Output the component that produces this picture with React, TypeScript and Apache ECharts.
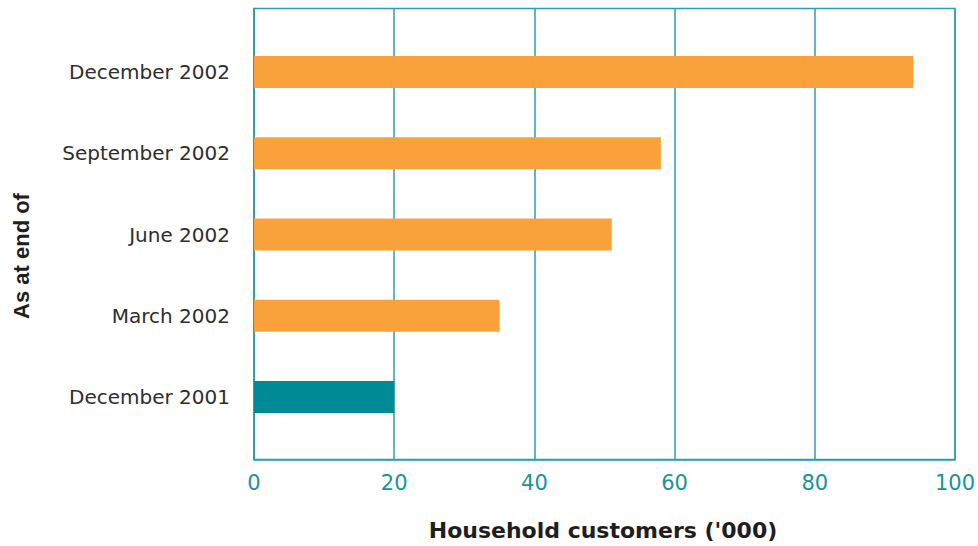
import React, { useEffect, useRef } from "react";
import * as echarts from "echarts";

const categories = ["December 2002", "September 2002", "June 2002", "March 2002", "December 2001"];
const customers = [94, 58, 51, 35, 20];
const barColors = ["#F9A23B", "#F9A23B", "#F9A23B", "#F9A23B", "#008A96"];
const xTicks = [0, 20, 40, 60, 80, 100];
const xTitle = "Household customers ('000)";
const yTitle = "As at end of";

const TEAL_LINE = "#2A9FAA";
const TEAL_TEXT = "#1A929D";

export default function App() {
  const ref = useRef<HTMLDivElement>(null);
  useEffect(() => {
    if (!ref.current) return;
    const chart = echarts.init(ref.current, undefined, { renderer: "svg" });
    chart.setOption({
      animation: false,
      backgroundColor: "#ffffff",
      grid: [
        { left: 254, right: 22.5, top: 8.5, bottom: 86.5, show: true, borderColor: TEAL_LINE, borderWidth: 1.5, backgroundColor: "transparent" },
        { left: 254, right: 22.5, top: 31.4, bottom: 108.4 },
      ],
      xAxis: [
        {
          gridIndex: 0,
          type: "value",
          min: xTicks[0],
          max: xTicks[xTicks.length - 1],
          interval: 20,
          axisLine: { show: true, lineStyle: { color: TEAL_LINE, width: 1.5 } },
          axisTick: { show: false },
          splitLine: { show: true, lineStyle: { color: TEAL_LINE, width: 1.5 } },
          axisLabel: { color: TEAL_TEXT, fontSize: 21, fontFamily: "DejaVu Sans", margin: 13 },
        },
        {
          gridIndex: 1,
          type: "value",
          min: 0,
          max: 100,
          show: false,
        },
      ],
      yAxis: [
        {
          gridIndex: 0,
          type: "value",
          min: 0,
          max: 1,
          axisLine: { show: true, lineStyle: { color: TEAL_LINE, width: 1.5 } },
          axisTick: { show: false },
          axisLabel: { show: false },
          splitLine: { show: false },
        },
        {
          gridIndex: 1,
          type: "category",
          inverse: true,
          data: categories,
          axisLine: { show: false },
          axisTick: { show: false },
          axisLabel: { color: "#2e2e2e", fontSize: 20, fontFamily: "DejaVu Sans", margin: 24 },
        },
      ],
      series: [
        {
          type: "bar",
          xAxisIndex: 1,
          yAxisIndex: 1,
          barWidth: 32,
          data: customers.map((v, i) => ({ value: v, itemStyle: { color: barColors[i] } })),
        },
      ],
      graphic: [
        {
          type: "text",
          x: 603,
          y: 530,
          style: {
            text: xTitle,
            fontSize: 22,
            fontWeight: "bold",
            fontFamily: "DejaVu Sans",
            fill: "#1e1e1e",
            align: "center",
            verticalAlign: "middle",
          },
        },
        {
          type: "text",
          x: 21,
          y: 256,
          rotation: Math.PI / 2,
          style: {
            text: yTitle,
            fontSize: 22,
            fontWeight: "bold",
            fontFamily: "Liberation Sans",
            fill: "#1e1e1e",
            align: "center",
            verticalAlign: "middle",
          },
        },
      ],
    });
    return () => chart.dispose();
  }, []);
  return (
    <div
      ref={ref}
      style={{ position: "fixed", left: 0, top: 0, width: 978, height: 546 }}
    />
  );
}
